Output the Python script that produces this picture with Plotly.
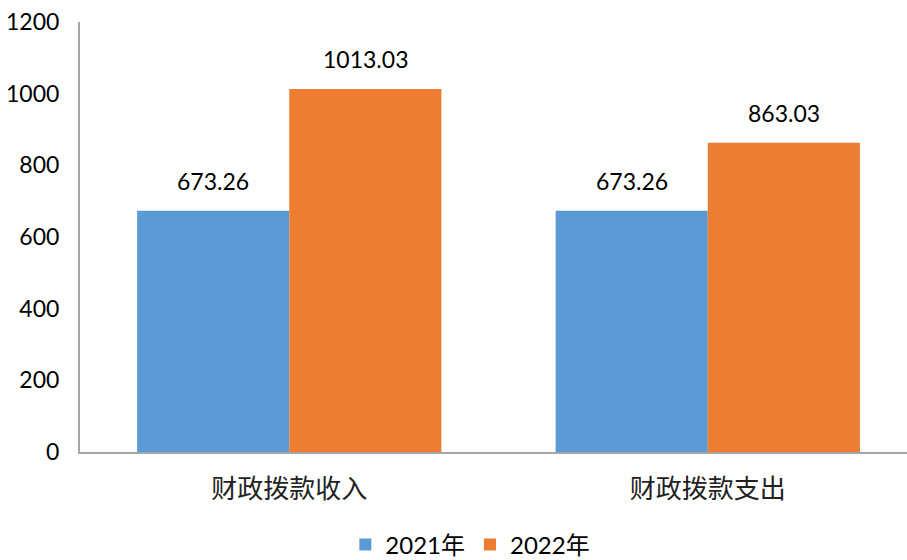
import plotly.graph_objects as go

categories = ["财政拨款收入", "财政拨款支出"]
series_names = ["2021年", "2022年"]
values_2021 = [673.26, 673.26]
values_2022 = [1013.03, 863.03]
y_ticks = [0, 200, 400, 600, 800, 1000, 1200]

colors = ["#5B9BD5", "#ED7D31"]
font_fam = "Lato, 'Noto Sans CJK SC', sans-serif"

fig = go.Figure()
for name, vals, col in zip(series_names, [values_2021, values_2022], colors):
    fig.add_trace(go.Bar(x=categories, y=vals, name=name, marker_color=col,
                         marker_line_width=0))

# data labels
for i, (name, vals) in enumerate(zip(series_names, [values_2021, values_2022])):
    shift = -76 if i == 0 else 76
    for c, v in zip(categories, vals):
        fig.add_annotation(x=c, y=v, text=f"{v:.2f}", showarrow=False,
                           xshift=shift, yshift=30, yanchor="middle",
                           font=dict(family=font_fam, size=23, color="#000000"))

fig.update_layout(
    width=907, height=560,
    margin=dict(l=80, r=0, t=22, b=108, autoexpand=False),
    plot_bgcolor="white", paper_bgcolor="white",
    barmode="group", bargap=0.273, bargroupgap=0,
    font=dict(family=font_fam, size=22, color="#000000"),
    showlegend=True,
    legend=dict(orientation="h", x=0.472, xanchor="center", y=-0.216, yanchor="middle",
                yref="paper",
                font=dict(family=font_fam, size=24), itemwidth=30, traceorder="normal"),
    xaxis=dict(range=[-0.5, 1.476], showline=True, linecolor="#A6A6A6", linewidth=2,
               ticks="", ticklabelstandoff=13, automargin=False,
               tickfont=dict(family="'Noto Sans CJK SC'", size=26, color="#222222")),
    yaxis=dict(range=[0, 1200], tickvals=y_ticks, showline=True, linecolor="#A6A6A6",
               linewidth=2, showgrid=False, zeroline=False, ticks="",
               ticklabelstandoff=14, automargin=False, ticklabeloverflow="allow",
               tickfont=dict(family=font_fam, size=23, color="#000000")),
)

fig.write_html("out.html", config={"displayModeBar": False},
               post_script="document.body.style.margin='0';document.body.style.overflow='hidden';")
